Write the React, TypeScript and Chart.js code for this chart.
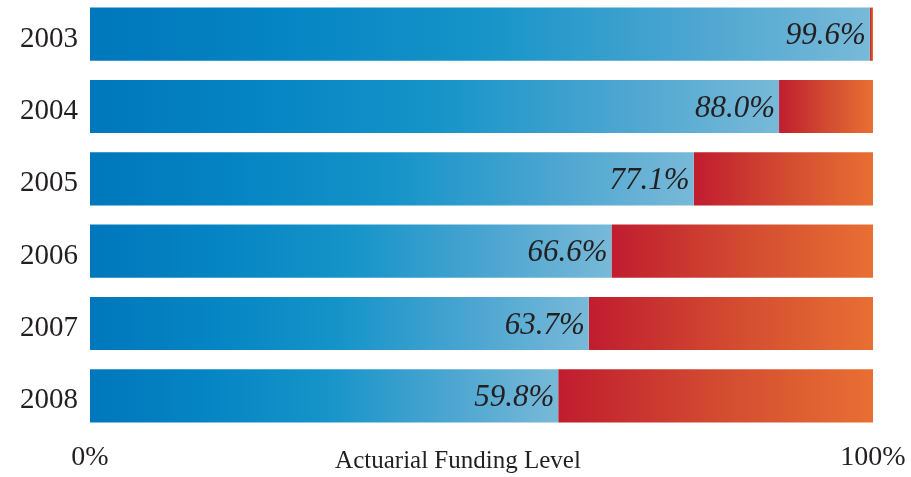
import React, { useEffect, useRef } from "react";
import { Chart, registerables } from "chart.js";

Chart.register(...registerables);

const years = ["2003", "2004", "2005", "2006", "2007", "2008"];
const funded = [99.6, 88.0, 77.1, 66.6, 63.7, 59.8];
const unfunded = funded.map((v) => +(100 - v).toFixed(1));
const fundedLabels = ["99.6%", "88.0%", "77.1%", "66.6%", "63.7%", "59.8%"];
const axisTickLabels: Record<number, string> = { 0: "0%", 100: "100%" };
const axisTitle = "Actuarial Funding Level";

const SERIF = "'Liberation Serif', 'DejaVu Serif', serif";
const TOP_SHIFT = 2;

export default function App() {
  const ref = useRef<HTMLCanvasElement | null>(null);

  useEffect(() => {
    if (!ref.current) return;

    const blueGrad = (c: any) => {
      const chart = c.chart;
      const xs = chart.scales?.x;
      if (!xs || !chart.chartArea) return "#2a96cc";
      const x0 = xs.getPixelForValue(0);
      const x1 = xs.getPixelForValue(funded[c.dataIndex] ?? 100);
      const g = chart.ctx.createLinearGradient(x0, 0, x1, 0);
      g.addColorStop(0, "#0077bc");
      g.addColorStop(0.25, "#0585c3");
      g.addColorStop(0.5, "#1594c9");
      g.addColorStop(0.75, "#48a4d0");
      g.addColorStop(1, "#78b9d8");
      return g;
    };
    const redGrad = (c: any) => {
      const chart = c.chart;
      const xs = chart.scales?.x;
      if (!xs || !chart.chartArea) return "#d04030";
      const x0 = xs.getPixelForValue(funded[c.dataIndex] ?? 0);
      const x1 = xs.getPixelForValue(100);
      if (x1 - x0 < 2) return "#d83a2c";
      const g = chart.ctx.createLinearGradient(x0, 0, x1, 0);
      g.addColorStop(0, "#c01d2f");
      g.addColorStop(0.5, "#d24a30");
      g.addColorStop(1, "#e86f33");
      return g;
    };

    const labelPlugin = {
      id: "valueLabels",
      afterDatasetsDraw(chart: any) {
        const meta = chart.getDatasetMeta(0);
        const ctx = chart.ctx;
        ctx.save();
        ctx.font = `italic 31px ${SERIF}`;
        ctx.fillStyle = "#231f20";
        ctx.textAlign = "right";
        ctx.textBaseline = "alphabetic";
        meta.data.forEach((bar: any, i: number) => {
          ctx.fillText(fundedLabels[i], bar.x - 4, bar.y + 10);
        });
        ctx.restore();
      },
    };

    const titlePlugin = {
      id: "axisTitleInline",
      afterDraw(chart: any) {
        const ctx = chart.ctx;
        ctx.save();
        ctx.font = `25px ${SERIF}`;
        ctx.fillStyle = "#231f20";
        ctx.textAlign = "center";
        ctx.textBaseline = "alphabetic";
        ctx.fillText(axisTitle, 458, 468 + TOP_SHIFT);
        ctx.restore();
      },
    };

    const chart = new Chart(ref.current, {
      type: "bar",
      data: {
        labels: years,
        datasets: [
          {
            data: funded,
            backgroundColor: blueGrad,
            borderWidth: 0,
            categoryPercentage: 1,
            barPercentage: 0.736,
          },
          {
            data: unfunded,
            backgroundColor: redGrad,
            borderWidth: 0,
            categoryPercentage: 1,
            barPercentage: 0.736,
          },
        ],
      },
      options: {
        indexAxis: "y",
        animation: false,
        responsive: false,
        maintainAspectRatio: false,
        layout: { padding: { left: 0, right: 38, top: 0, bottom: 0 } },
        plugins: {
          legend: { display: false },
          tooltip: { enabled: false },
          title: { display: false },
        },
        scales: {
          x: {
            stacked: true,
            min: 0,
            max: 100,
            grid: { display: false, drawTicks: false },
            border: { display: false },
            ticks: {
              stepSize: 100,
              padding: 9,
              color: "#231f20",
              font: { family: SERIF, size: 28 },
              callback: (v: any) => axisTickLabels[v as number] ?? "",
              maxRotation: 0,
            },
            afterFit: (s: any) => {
              s.height = 45;
              s.paddingLeft = 0;
              s.paddingRight = 0;
            },
          },
          y: {
            stacked: true,
            grid: { display: false, drawTicks: false },
            border: { display: false },
            ticks: {
              padding: 12,
              labelOffset: 5,
              color: "#231f20",
              font: { family: SERIF, size: 29 },
            },
            afterFit: (s: any) => {
              s.width = 90;
              s.paddingTop = 0;
              s.paddingBottom = 0;
            },
          },
        },
      },
      plugins: [labelPlugin, titlePlugin],
    });
    return () => chart.destroy();
  }, []);

  return (
    <div style={{ position: "absolute", left: 0, top: -TOP_SHIFT, width: 911, height: 477 + TOP_SHIFT, background: "#fff" }}>
      <canvas ref={ref} width={911} height={477 + TOP_SHIFT} style={{ display: "block" }} />
    </div>
  );
}
